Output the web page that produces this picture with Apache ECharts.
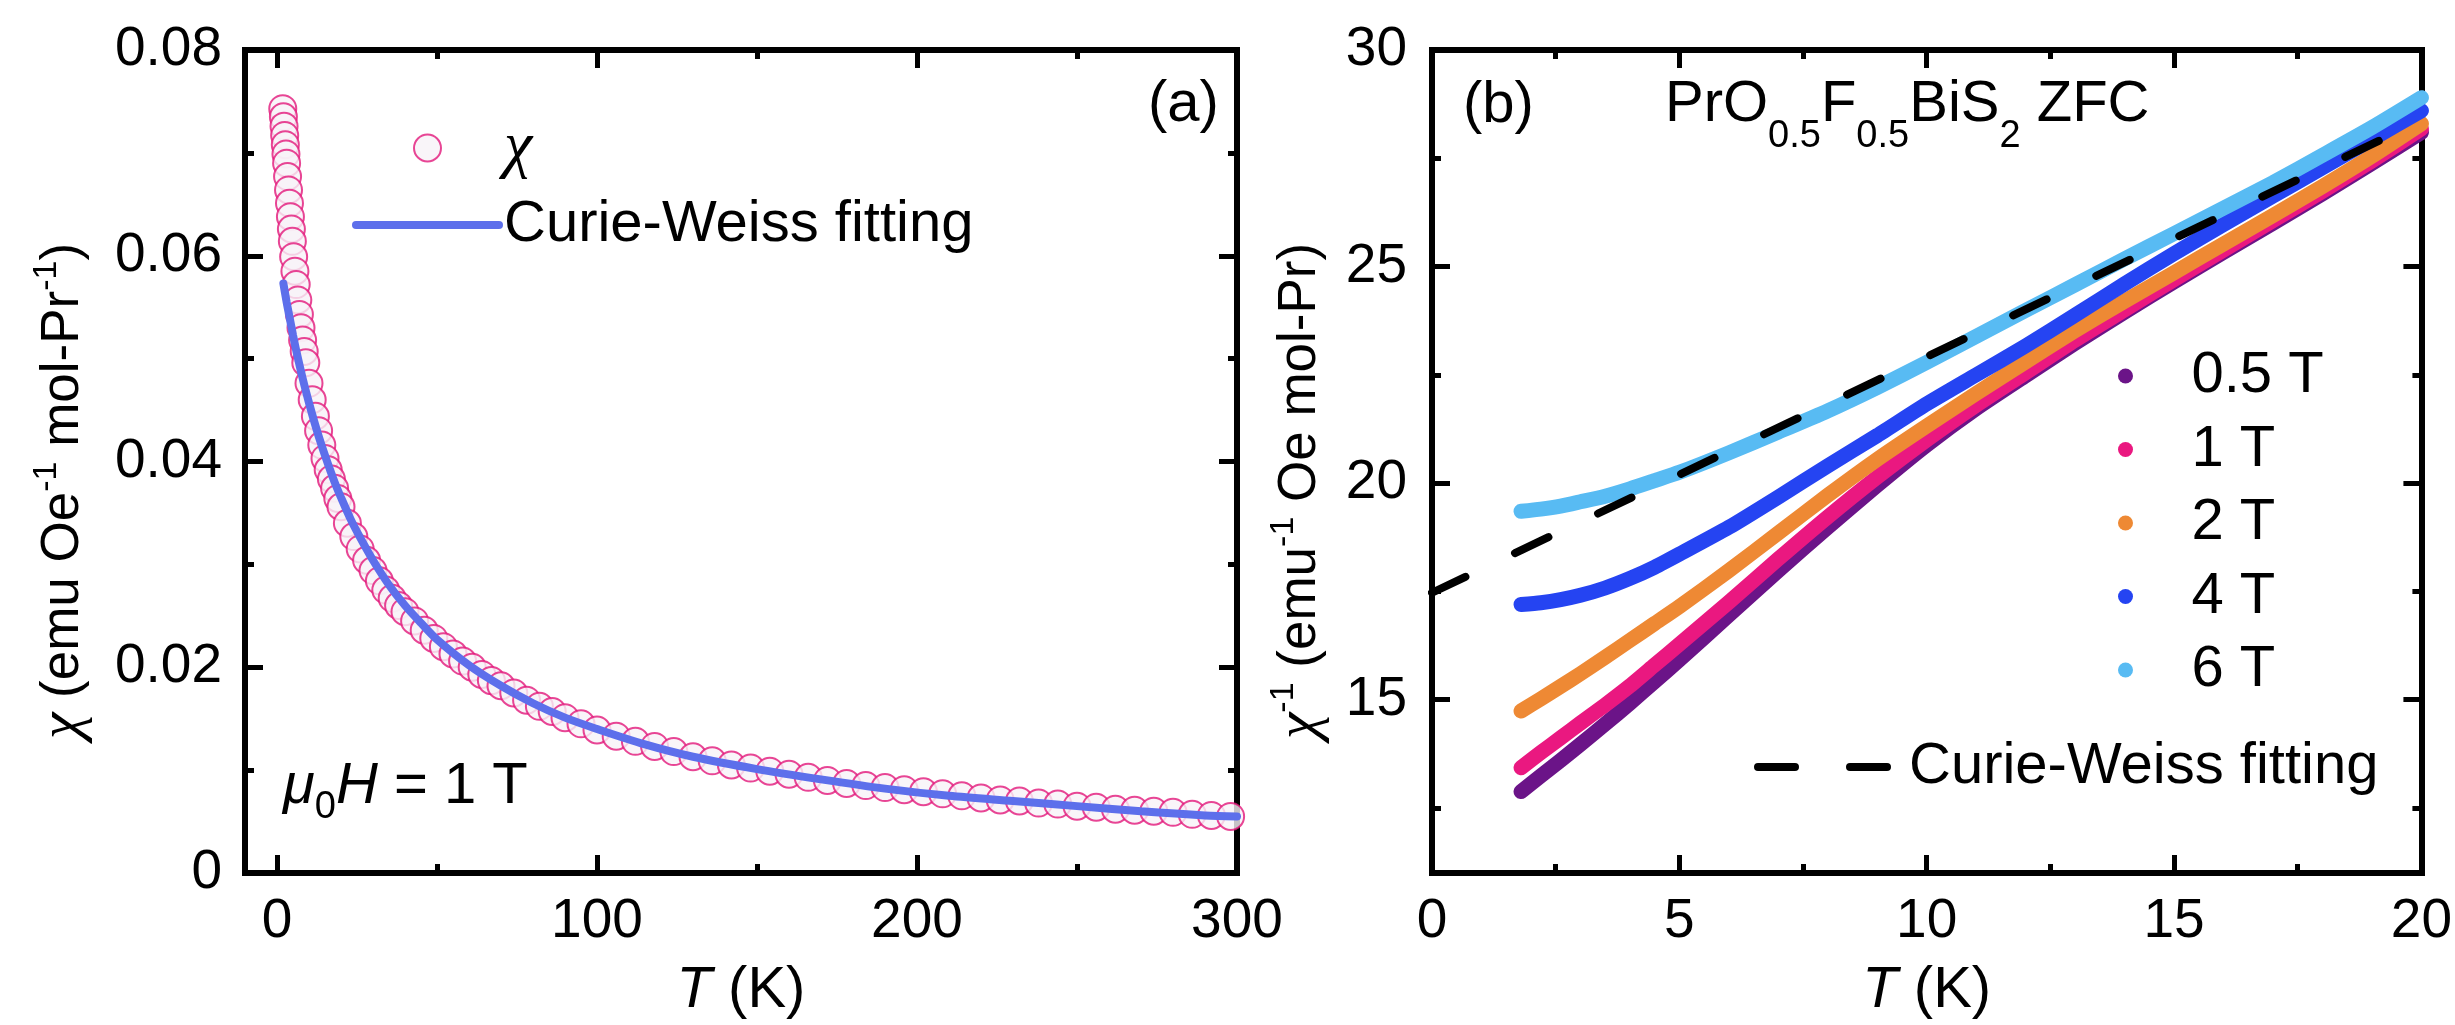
<!DOCTYPE html>
<html><head><meta charset="utf-8">
<script src="https://cdn.jsdelivr.net/npm/echarts@6/dist/echarts.min.js"></script>
<style>html,body{margin:0;padding:0;background:#fff}#c{width:2455px;height:1025px}</style>
</head><body><div id="c"></div>
<script>
// ---------- Panel (a): chi vs T at 1 T ----------
const leftT = [1.8,2.0,2.2,2.4,2.6,2.8,3.0,3.3,3.6,3.9,4.2,4.5,4.8,5.2,5.6,6.0,6.5,7.0,7.5,8.0,8.5,9.0,10,11,12,13,14,15,16,17,18,19,20,22,24,26,28,30,32,34,36,38,40,43,46,49,52,55,58,61,64,67,70,74,78,82,86,90,95,100,106,112,118,124,130,136,142,148,154,160,166,172,178,184,190,196,202,208,214,220,226,232,238,244,250,256,262,268,274,280,286,292,298];
const leftChi = [0.0743,0.0735,0.0726,0.0717,0.0708,0.0699,0.0690,0.0677,0.0664,0.0651,0.0638,0.0626,0.0614,0.0599,0.0585,0.0572,0.0557,0.0543,0.0530,0.0518,0.0507,0.0496,0.0476,0.0460,0.0444,0.0430,0.0416,0.0403,0.0392,0.0383,0.0374,0.0364,0.0356,0.0340,0.0327,0.0315,0.0304,0.0294,0.0284,0.0275,0.0267,0.0260,0.0254,0.0245,0.0236,0.0228,0.0220,0.0213,0.0206,0.0200,0.0193,0.0187,0.0182,0.0175,0.0168,0.0162,0.0157,0.0151,0.0145,0.0139,0.0133,0.0128,0.0123,0.0118,0.0113,0.0109,0.0105,0.0102,0.0099,0.0096,0.0093,0.0090,0.0087,0.0085,0.0083,0.0081,0.0079,0.0077,0.0075,0.0073,0.0071,0.0070,0.0068,0.0067,0.0065,0.0064,0.0062,0.0061,0.0060,0.0059,0.0057,0.0056,0.0055];
const fitT = [2,3,4,5,6,8,10,12,14,16,18,20,23,26,30,35,40,45,50,60,70,80,90,100,115,130,150,170,190,210,230,250,270,290,300];
const fitChi = [0.0573,0.0555,0.0539,0.0523,0.0508,0.0481,0.0457,0.0435,0.0415,0.0397,0.0380,0.0365,0.0344,0.0326,0.0304,0.0280,0.0260,0.0243,0.0227,0.0202,0.0182,0.0165,0.0151,0.0140,0.0125,0.0113,0.0101,0.0091,0.0082,0.0075,0.0070,0.0065,0.0060,0.0056,0.0055];

// ---------- Panel (b): 1/chi vs T ----------
const rightT = [1.8,2.2,2.6,3,3.5,4,4.5,5,6,7,8,9,10,11,12,13,14,15,16,17,18,19,20];
const inv05T = [12.88,13.24,13.60,13.97,14.44,14.92,15.42,15.92,16.95,17.98,18.98,19.95,20.88,21.72,22.48,23.23,23.95,24.65,25.33,26.00,26.68,27.38,28.10];
const inv1T  = [13.43,13.78,14.12,14.46,14.88,15.32,15.80,16.28,17.25,18.25,19.22,20.14,21.00,21.80,22.55,23.30,24.00,24.70,25.38,26.06,26.74,27.44,28.18];
const inv2T  = [14.74,15.02,15.31,15.60,15.98,16.37,16.76,17.15,17.98,18.85,19.72,20.55,21.32,22.07,22.80,23.52,24.20,24.86,25.52,26.18,26.85,27.55,28.30];
const inv4T  = [17.20,17.24,17.31,17.41,17.58,17.80,18.06,18.36,18.98,19.68,20.40,21.10,21.83,22.50,23.17,23.88,24.60,25.30,25.97,26.63,27.28,27.94,28.60];
const inv6T  = [19.35,19.40,19.47,19.57,19.70,19.87,20.06,20.25,20.70,21.18,21.67,22.21,22.79,23.39,23.99,24.58,25.18,25.76,26.35,26.94,27.57,28.21,28.90];
const cwT = [0, 20];
const cwInv = [17.47, 28.37];
const fieldNames = ['0.5 T','1 T','2 T','4 T','6 T'];
const fieldColors = ['#6B1488','#EA1880','#EE8934','#2544F2','#58BBF3'];

// ---------- ticks ----------
const aXMajor = [0,100,200,300], aXMinor = [50,150,250];
const aYMajor = [0,0.02,0.04,0.06,0.08], aYMinor = [0.01,0.03,0.05,0.07];
const bXMajor = [0,5,10,15,20], bXMinor = [2.5,7.5,12.5,17.5];
const bYMajor = [15,20,25,30], bYMinor = [12.5,17.5,22.5,27.5];

const FONT = '"Liberation Sans", Arial, sans-serif';
const SERIF = '"Liberation Serif", "Times New Roman", serif';
const zip = (a, b) => a.map((v, i) => [v, b[i]]);
const PAD = '\u00a0\u00a0\u00a0\u00a0';

function ax(grid, pos, min, max, ticks, minor, label) {
  const o = {
    type: 'value', gridIndex: grid, position: pos, min: min, max: max,
    splitLine: { show: false },
    axisLine: { show: !minor, onZero: false, lineStyle: { color: '#000', width: 6, cap: 'square' } },
    axisTick: { show: true, inside: true, length: minor ? 9 : 18, customValues: ticks, lineStyle: { color: '#000', width: 5 } },
    axisLabel: { show: false }
  };
  if (label) o.axisLabel = Object.assign({ show: true, customValues: ticks, fontSize: 55, fontFamily: FONT, color: '#000' }, label);
  return o;
}

const nameStyleX = { fontSize: 58, fontFamily: FONT, color: '#000', lineHeight: 58,
  rich: { i: { fontSize: 58, fontFamily: FONT, fontStyle: 'italic', lineHeight: 58 } } };
const nameStyleY = { fontSize: 53, fontFamily: FONT, color: '#000', lineHeight: 66,
  rich: { i: { fontSize: 60, fontFamily: SERIF, fontStyle: 'italic', lineHeight: 66 },
          s: { fontSize: 34, fontFamily: FONT, verticalAlign: 'top', lineHeight: 33 } } };

const xAxes = [
  Object.assign(ax(0, 'bottom', -10, 300, aXMajor, false, { margin: 21 }),
    { name: '{i|T} (K)', nameLocation: 'middle', nameGap: 89, nameTextStyle: nameStyleX }),
  ax(0, 'bottom', -10, 300, aXMinor, true),
  ax(0, 'top', -10, 300, aXMajor, false),
  ax(0, 'top', -10, 300, aXMinor, true),
  Object.assign(ax(1, 'bottom', 0, 20, bXMajor, false, { margin: 21 }),
    { name: '{i|T} (K)', nameLocation: 'middle', nameGap: 89, nameTextStyle: nameStyleX }),
  ax(1, 'bottom', 0, 20, bXMinor, true),
  ax(1, 'top', 0, 20, bXMajor, false),
  ax(1, 'top', 0, 20, bXMinor, true)
];
const yAxes = [
  Object.assign(ax(0, 'left', 0, 0.08, aYMajor, false, { margin: 23, formatter: v => v === 0 ? '0' : v.toFixed(2) }),
    { name: '{i|χ} (emu Oe{s|-1} mol-Pr{s|-1})' + PAD, nameLocation: 'middle', nameGap: 149, nameTextStyle: nameStyleY }),
  ax(0, 'left', 0, 0.08, aYMinor, true),
  ax(0, 'right', 0, 0.08, aYMajor, false),
  ax(0, 'right', 0, 0.08, aYMinor, true),
  Object.assign(ax(1, 'left', 11, 30, bYMajor, false, { margin: 25 }),
    { name: '{i|χ}{s|-1} (emu{s|-1} Oe mol-Pr)' + PAD, nameLocation: 'middle', nameGap: 99, nameTextStyle: nameStyleY }),
  ax(1, 'left', 11, 30, bYMinor, true),
  ax(1, 'right', 11, 30, bYMajor, false),
  ax(1, 'right', 11, 30, bYMinor, true)
];

const fieldData = [inv05T, inv1T, inv2T, inv4T, inv6T];
const series = [
  { type: 'scatter', name: 'χ', xAxisIndex: 0, yAxisIndex: 0, data: zip(leftT, leftChi),
    symbol: 'circle', symbolSize: 27,
    itemStyle: { color: '#F7F2F8', borderColor: '#E2187A', borderWidth: 2 } },
  { type: 'line', name: 'Curie-Weiss fitting', xAxisIndex: 0, yAxisIndex: 0, data: zip(fitT, fitChi),
    symbol: 'none', smooth: 0.3, lineStyle: { color: '#5D6FEB', width: 8, cap: 'round' }, itemStyle: { color: '#5D6FEB' } }
];
fieldNames.forEach((n, k) => {
  series.push({ type: 'line', name: n, xAxisIndex: 4, yAxisIndex: 4, data: zip(rightT, fieldData[k]),
    symbol: 'none', smooth: 0.2,
    lineStyle: { color: fieldColors[k], width: 15, cap: 'round', join: 'round' },
    itemStyle: { color: fieldColors[k] } });
});
series.push({ type: 'line', name: 'Curie-Weiss fitting ', xAxisIndex: 4, yAxisIndex: 4, data: zip(cwT, cwInv),
  symbol: 'none', lineStyle: { color: '#000', width: 8, type: [37, 55], cap: 'round' }, itemStyle: { color: '#000' }, z: 5 });

const legText = { fontSize: 58, fontFamily: FONT, color: '#000', lineHeight: 58,
  rich: { i: { fontSize: 64, fontFamily: SERIF, fontStyle: 'italic', lineHeight: 58 } } };
const noSymbol = { opacity: 0, color: 'rgba(0,0,0,0)', borderWidth: 0 };

const option = {
  animation: false,
  backgroundColor: '#fff',
  grid: [
    { left: 245, top: 50, width: 992, height: 824 },
    { left: 1432, top: 50, width: 991, height: 824 }
  ],
  xAxis: xAxes,
  yAxis: yAxes,
  legend: [
    { data: ['χ', { name: 'Curie-Weiss fitting', itemStyle: noSymbol }], orient: 'vertical', left: 352, top: 116,
      itemWidth: 143, itemHeight: 27, itemGap: 16, padding: 0, selectedMode: false, textStyle: legText,
      lineStyle: { width: 8 }, formatter: n => n === 'χ' ? '{i|χ}' : n },
    { data: fieldNames, orient: 'vertical', left: 2118, top: 347, itemWidth: 122, itemHeight: 15,
      itemGap: 15.5, padding: 0, icon: 'circle', selectedMode: false, textStyle: legText },
    { data: [{ name: 'Curie-Weiss fitting ', itemStyle: noSymbol }], orient: 'horizontal', left: 1754, top: 738,
      itemWidth: 146, itemHeight: 15, padding: 0, selectedMode: false, textStyle: legText, lineStyle: { width: 8 } }
  ],
  graphic: [
    { type: 'text', x: 1148, y: 105, style: { text: '(a)', fontSize: 58, fontFamily: FONT, fill: '#000', verticalAlign: 'middle' } },
    { type: 'text', x: 1463, y: 106, style: { text: '(b)', fontSize: 58, fontFamily: FONT, fill: '#000', verticalAlign: 'middle' } },
    { type: 'text', x: 1665, y: 76, style: {
        text: '{m|PrO}{s|0.5}{m|F}{s|0.5}{m|BiS}{s|2}{m| ZFC}', verticalAlign: 'top', fill: '#000',
        fontSize: 58, fontFamily: FONT,
        rich: { m: { fontSize: 58, fontFamily: FONT, lineHeight: 58, verticalAlign: 'top', fill: '#000' },
                s: { fontSize: 38, fontFamily: FONT, lineHeight: 122, verticalAlign: 'middle', fill: '#000' } } } },
    { type: 'text', x: 283, y: 758, style: {
        text: '{it|μ}{s|0}{it|H}{m| = 1 T}', verticalAlign: 'top', fill: '#000',
        fontSize: 58, fontFamily: FONT,
        rich: { m: { fontSize: 58, fontFamily: FONT, lineHeight: 58, verticalAlign: 'top', fill: '#000' },
                it: { fontSize: 58, fontFamily: FONT, fontStyle: 'italic', lineHeight: 58, verticalAlign: 'top', fill: '#000' },
                s: { fontSize: 38, fontFamily: FONT, lineHeight: 100, verticalAlign: 'middle', fill: '#000' } } } }
  ],
  series: series
};
const chart = echarts.init(document.getElementById('c'), null, { renderer: 'canvas' });
chart.setOption(option);
</script></body></html>
